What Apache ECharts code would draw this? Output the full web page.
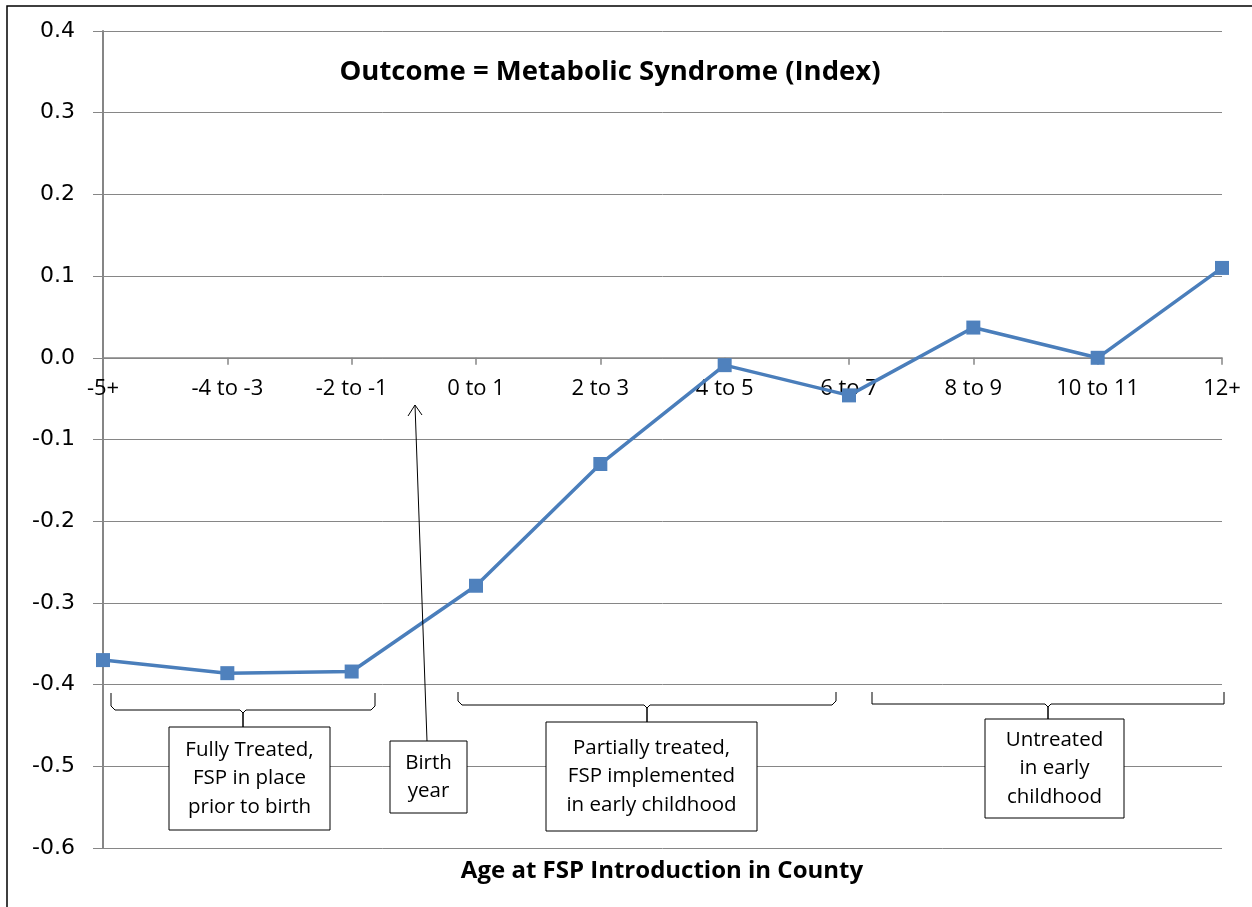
<!DOCTYPE html>
<html>
<head>
<meta charset="utf-8">
<script src="https://cdn.jsdelivr.net/npm/echarts@6/dist/echarts.min.js"></script>
<style>
html,body{margin:0;padding:0;background:#fff;}
#chart{width:1252px;height:907px;}
</style>
</head>
<body>
<div id="chart"></div>
<script>
const categories = ['-5+', '-4 to -3', '-2 to -1', '0 to 1', '2 to 3', '4 to 5', '6 to 7', '8 to 9', '10 to 11', '12+'];
const values = [-0.370, -0.386, -0.384, -0.279, -0.130, -0.009, -0.046, 0.037, 0.000, 0.110];
const yTicks = { min: -0.6, max: 0.4, interval: 0.1 };
const chartTitle = 'Outcome = Metabolic Syndrome (Index)';
const xTitle = 'Age at FSP Introduction in County';
const box1Lines = ['Fully Treated,', 'FSP in place', 'prior to birth'];
const box2Lines = ['Partially treated,', 'FSP implemented', 'in early childhood'];
const box3Lines = ['Untreated', 'in early', 'childhood'];
const birthLines = ['Birth', 'year'];

const txtFont = '"Open Sans", "Noto Sans", sans-serif';
const grey = '#868686';

function box(x, y, w, h, lines, lh) {
  const els = [{
    type: 'rect', shape: { x: x, y: y, width: w, height: h },
    style: { fill: '#fff', stroke: '#000', lineWidth: 1 }, z: 20
  }];
  const cy = y + h / 2;
  lines.forEach((t, i) => {
    els.push({
      type: 'text', z: 21,
      style: {
        x: x + w / 2, y: cy + (i - (lines.length - 1) / 2) * lh, text: t,
        font: '20.5px ' + txtFont, fill: '#000', align: 'center', verticalAlign: 'middle'
      }
    });
  });
  return els;
}
function bracket(x1, x2, yTop, yH, xc, yBox, rounded) {
  const r = rounded ? 4 : 0;
  return {
    type: 'polyline', z: 15,
    shape: { points: [[x1, yTop], [x1, yH - r], [x1 + r, yH], [xc - 3, yH], [xc, yH + 3], [xc, yBox], [xc, yH + 3], [xc + 3, yH], [x2 - r, yH], [x2, yH - r], [x2, yTop]] },
    style: { stroke: '#000', lineWidth: 1, fill: null }
  };
}

const graphics = [
  { type: 'rect', shape: { x: 7, y: 6, width: 1270, height: 930 }, style: { fill: null, stroke: '#000', lineWidth: 1.5 }, z: 1 },
  { type: 'text', z: 30, style: { x: 610, y: 72, text: chartTitle, font: 'bold 27.5px ' + txtFont, fill: '#000', align: 'center', verticalAlign: 'middle' } },
  { type: 'text', z: 30, style: { x: 662, y: 871, text: xTitle, font: 'bold 24px ' + txtFont, fill: '#000', align: 'center', verticalAlign: 'middle' } },
  bracket(111, 375, 693, 710, 243, 727, true),
  bracket(458, 836, 692, 705, 647, 722, true),
  bracket(872, 1224, 692, 704, 1048, 719, false),
  ...box(169, 727, 161, 103, box1Lines, 28.5),
  ...box(546, 722, 211, 109, box2Lines, 28.5),
  ...box(985, 719, 139, 99, box3Lines, 28.5),
  ...box(390, 741, 77, 72, birthLines, 28),
  { type: 'line', z: 15, shape: { x1: 427, y1: 741, x2: 415, y2: 405 }, style: { stroke: '#000', lineWidth: 1 } },
  { type: 'polyline', z: 15, shape: { points: [[408, 416], [415, 405], [422, 415]] }, style: { stroke: '#000', lineWidth: 1, fill: null } }
];

const chart = echarts.init(document.getElementById('chart'));
const option = {
  backgroundColor: '#fff',
  animation: false,
  grid: { left: 103, right: 30, top: 31, bottom: 59, containLabel: false },
  xAxis: {
    type: 'category', data: categories, boundaryGap: false,
    position: 'bottom', offset: 0,
    axisLine: { onZero: false, lineStyle: { color: grey, width: 1.5 } },
    axisTick: { show: true, alignWithLabel: true, inside: false, length: 7, lineStyle: { color: grey, width: 1.5 } },
    axisLabel: { color: '#000', fontFamily: txtFont, fontSize: 22, margin: 20, interval: 0 },
    splitLine: { show: false }
  },
  yAxis: {
    type: 'value', min: yTicks.min, max: yTicks.max, interval: yTicks.interval,
    axisLine: { show: true, lineStyle: { color: grey, width: 2 } },
    axisTick: { show: true, length: 10, lineStyle: { color: grey, width: 1 } },
    axisLabel: { color: '#000', fontFamily: '"DejaVu Sans", sans-serif', fontSize: 22, margin: 28, formatter: v => v.toFixed(1) },
    splitLine: { show: true, lineStyle: { color: grey, width: 1 } }
  },
  series: [{
    type: 'line', data: values, symbol: 'rect', symbolSize: 14,
    lineStyle: { color: '#4A7EBB', width: 3.5 },
    itemStyle: { color: '#4F81BD' },
    z: 3
  }],
  graphic: graphics
};
chart.setOption(option);
// move the category axis up to the value-axis zero line
const zeroY = chart.convertToPixel({ yAxisIndex: 0 }, 0);
const bottomY = chart.convertToPixel({ yAxisIndex: 0 }, yTicks.min);
chart.setOption({ xAxis: { offset: -(bottomY - zeroY) } });
</script>
</body>
</html>
